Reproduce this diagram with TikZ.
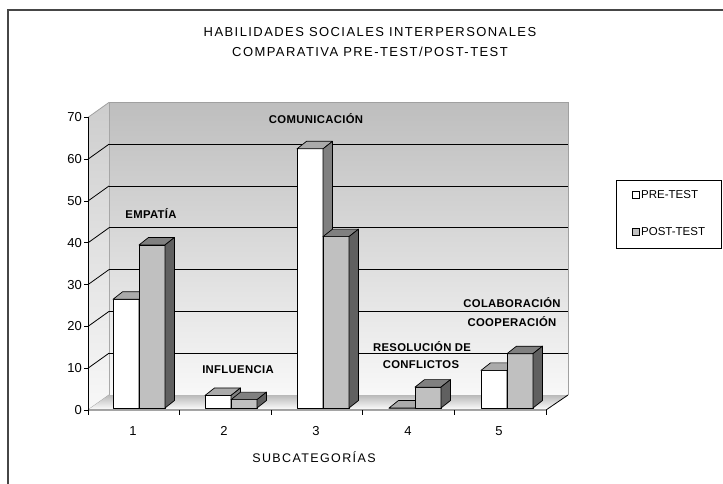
\documentclass[tikz,border=0pt]{standalone}
\usepackage{fontspec}
\setmainfont{Liberation Sans}
\newfontfamily\spaced[LetterSpace=11]{Liberation Sans}
\newfontfamily\lblfont[LetterSpace=3]{Liberation Sans}
\definecolor{wallTop}{RGB}{190,190,190}
\definecolor{wallBot}{RGB}{248,248,248}
\definecolor{sideTop}{RGB}{205,205,205}
\definecolor{floorBack}{RGB}{185,185,185}
\definecolor{edgeGray}{RGB}{160,160,160}
\definecolor{preTop}{RGB}{170,170,170}
\definecolor{preSide}{RGB}{128,128,128}
\definecolor{postFront}{RGB}{192,192,192}
\definecolor{postTop}{RGB}{128,128,128}
\definecolor{postSide}{RGB}{96,96,96}
\definecolor{frameGray}{RGB}{70,70,70}
\newcommand\drawcol[5]{%
  \pgfmathsetmacro\yt{408-4.18*#2}%
  \pgfmathsetmacro\xr{#1+26}%
  \filldraw[fill=#3,barline] (#1,408) rectangle (\xr,\yt);
  \filldraw[fill=#4,barline] (#1,\yt) -- (\xr,\yt) -- ++(9.5,-7.5) -- ++(-26,0) -- cycle;
  \filldraw[fill=#5,barline] (\xr,408) -- (\xr,\yt) -- ++(9.5,-7.5) -- (\xr+9.5,400.5) -- cycle;
}
\begin{document}
\begin{tikzpicture}[x=1pt,y=-1pt,
  barline/.style={draw=black,line width=0.7pt,line join=round},
  grid/.style={draw=black,line width=0.8pt},
  axisline/.style={draw=black,line width=0.8pt},
  ticklbl/.style={font=\fontsize{13}{13}\selectfont,inner sep=0pt},
  datalbl/.style={font=\lblfont\bfseries\fontsize{11.3}{11.3}\selectfont,inner sep=0pt},
  legtxt/.style={font=\fontsize{11.5}{11.5}\selectfont,inner sep=0pt,anchor=west},
  titletxt/.style={font=\spaced\fontsize{13}{13}\selectfont,inner sep=0pt}]
\useasboundingbox (0,0) rectangle (723,484);
\fill[white] (0,0) rectangle (723,484);
% outer frame
\draw[line width=1.6pt,frameGray] (8,490) -- (8,10) -- (730,10);
% title
\node[titletxt] (t1) at (370,32) {HABILIDADES SOCIALES INTERPERSONALES};
\node[titletxt] (t2) at (370,52) {COMPARATIVA PRE-TEST/POST-TEST};
% back wall
\shade[top color=wallTop,bottom color=wallBot] (109,102.4) rectangle (568,395);
\draw[edgeGray,line width=0.8pt] (109,395) -- (109,102.4) -- (568,102.4) -- (568,395);
% left wall
\shade[top color=sideTop,bottom color=wallBot] (88,410) -- (88,117.4) -- (109,102.4) -- (109,395) -- cycle;
\draw[edgeGray,line width=0.8pt] (88,117.4) -- (109,102.4);
\draw[edgeGray,line width=0.8pt] (88,410) -- (109,395);
% floor
\shade[top color=floorBack,bottom color=white] (88,410) -- (546,410) -- (568,395) -- (109,395) -- cycle;
% gridlines
\foreach \v in {10,20,...,60}{
  \draw[grid] (109,395-4.18*\v) -- (568,395-4.18*\v);
  \draw[grid] (88,410-4.18*\v) -- (109,395-4.18*\v);
}
% axes
\draw[axisline] (88,410) -- (88,117.4);
\foreach \v in {0,10,...,70}{
  \draw[axisline] (84,410-4.18*\v) -- (88,410-4.18*\v);
  \node[ticklbl,anchor=east] (y\v) at (82,410-4.18*\v) {\v};
}
\draw[axisline] (88,410) -- (546,410) -- (568,395);
\foreach \i in {0,...,5}{
  \draw[axisline] (88+91.6*\i,410) -- (88+91.6*\i,415);
}
\foreach \i/\xx in {1/133,2/224,3/316,4/408,5/499}{
  \node[ticklbl] (c\i) at (\xx,431) {\i};
}
\node[titletxt,font=\spaced\fontsize{12.5}{12.5}\selectfont] (xlab) at (314,457) {SUBCATEGORÍAS};
% bars
\drawcol{113}{26}{white}{preTop}{preSide}
\drawcol{139}{39}{postFront}{postTop}{postSide}
\drawcol{205}{3}{white}{preTop}{preSide}
\drawcol{231}{2}{postFront}{postTop}{postSide}
\drawcol{297}{62}{white}{preTop}{preSide}
\drawcol{323}{41}{postFront}{postTop}{postSide}
\drawcol{389}{0}{white}{preTop}{preSide}
\drawcol{415}{5}{postFront}{postTop}{postSide}
\drawcol{481}{9}{white}{preTop}{preSide}
\drawcol{507}{13}{postFront}{postTop}{postSide}
% data labels
\node[datalbl] (l1) at (151,213) {EMPATÍA};
\node[datalbl] (l3) at (316,119) {COMUNICACIÓN};
\node[datalbl] (l2) at (238,370) {INFLUENCIA};
\node[datalbl] (l4a) at (422,347) {RESOLUCIÓN DE};
\node[datalbl] (l4b) at (421,365) {CONFLICTOS};
\node[datalbl] (l5a) at (512,303) {COLABORACIÓN};
\node[datalbl] (l5b) at (512,322) {COOPERACIÓN};
% legend
\draw[black,line width=0.8pt] (616,180) rectangle (721.5,248);
\draw[black,fill=white,line width=0.6pt] (632,191.5) rectangle (639,198.5);
\draw[black,fill=postFront,line width=0.6pt] (632,228.5) rectangle (639,235.5);
\node[legtxt] (lg1) at (641,195) {PRE-TEST};
\node[legtxt] (lg2) at (641,232) {POST-TEST};
\end{tikzpicture}
\end{document}
